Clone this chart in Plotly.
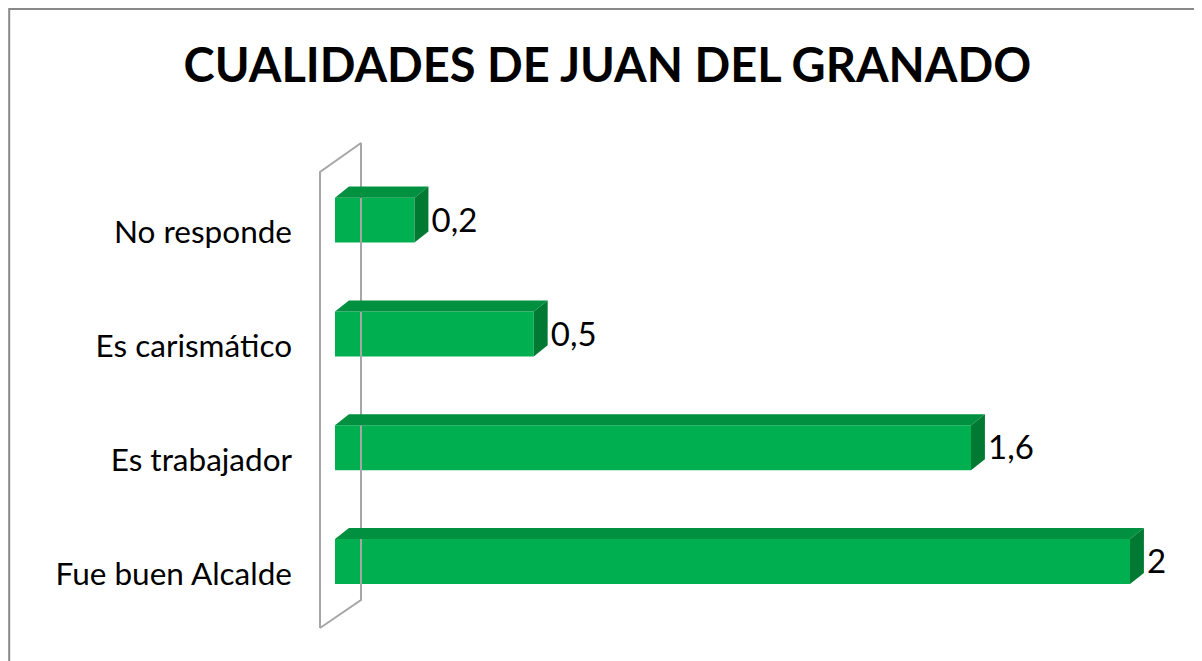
import plotly.graph_objects as go

# Datos del gráfico (de abajo hacia arriba)
categorias = ['Fue buen Alcalde', 'Es trabajador', 'Es carismático', 'No responde']
valores = [2, 1.6, 0.5, 0.2]
etiquetas = [f"{v:g}".replace('.', ',') for v in valores]
posiciones = list(range(len(categorias)))

# Estilo del efecto 3D
verde = '#00B050'
verde_arriba = '#00903F'
verde_lado = '#007A33'
ancho = 0.395
dx = 0.035   # profundidad en unidades del eje x
dy = 0.097   # profundidad en unidades del eje y

fig = go.Figure()

# Pared (plano vertical detrás de las barras)
fig.add_trace(go.Scatter(
    x=[-0.0377, -0.0377, 0.0654, 0.0654, -0.0377],
    y=[-0.584, 3.423, 3.678, -0.338, -0.584],
    mode='lines', line=dict(color='#A6A6A6', width=2),
    hoverinfo='skip', showlegend=False))

# Cara frontal de las barras
fig.add_trace(go.Bar(
    x=valores, y=posiciones, orientation='h', width=ancho,
    marker=dict(color=verde, line=dict(width=0)),
    hoverinfo='skip', showlegend=False))

# Caras superior y lateral
for v, p in zip(valores, posiciones):
    arriba = p + ancho / 2
    abajo = p - ancho / 2
    fig.add_trace(go.Scatter(
        x=[0, v, v + dx, dx, 0],
        y=[arriba, arriba, arriba + dy, arriba + dy, arriba],
        fill='toself', fillcolor=verde_arriba, mode='lines',
        line=dict(width=0, color=verde_arriba),
        hoverinfo='skip', showlegend=False))
    fig.add_trace(go.Scatter(
        x=[v, v + dx, v + dx, v, v],
        y=[abajo, abajo + dy, arriba + dy, arriba, abajo],
        fill='toself', fillcolor=verde_lado, mode='lines',
        line=dict(width=0, color=verde_lado),
        hoverinfo='skip', showlegend=False))

# Etiquetas de valores
fig.add_trace(go.Scatter(
    x=[v + dx + 0.008 for v in valores], y=[p - 0.03 for p in posiciones],
    mode='text', text=etiquetas, textposition='middle right',
    textfont=dict(family='Lato', size=33, color='black'),
    hoverinfo='skip', showlegend=False))

# La página añade 8 px de margen, por eso la figura es algo más pequeña
fig.update_layout(
    width=1194, height=653,
    margin=dict(l=0, r=0, t=0, b=0),
    paper_bgcolor='white', plot_bgcolor='white',
    title=dict(text='<b>CUALIDADES DE JUAN DEL GRANADO</b>',
               x=0.502, xanchor='center', y=0.912, yanchor='middle',
               font=dict(family='Lato', size=47, color='black')),
    shapes=[dict(type='path', xref='paper', yref='paper',
                 path='M 0.001,-0.1 L 0.001,0.9985 L 1.1,0.9985',
                 line=dict(color='#898989', width=2))],
)

fig.update_xaxes(domain=[292 / 1194, 1], range=[-0.08805, 2.18113],
                 visible=False, fixedrange=True)
fig.update_yaxes(range=[-0.874, 4.864], tickvals=[p - 0.105 for p in posiciones],
                 ticktext=categorias, showgrid=False, zeroline=False,
                 showline=False, ticks='', ticklabelstandoff=7, automargin=False,
                 tickfont=dict(family='Lato', size=31.5, color='black'))

fig.write_html("out.html")
